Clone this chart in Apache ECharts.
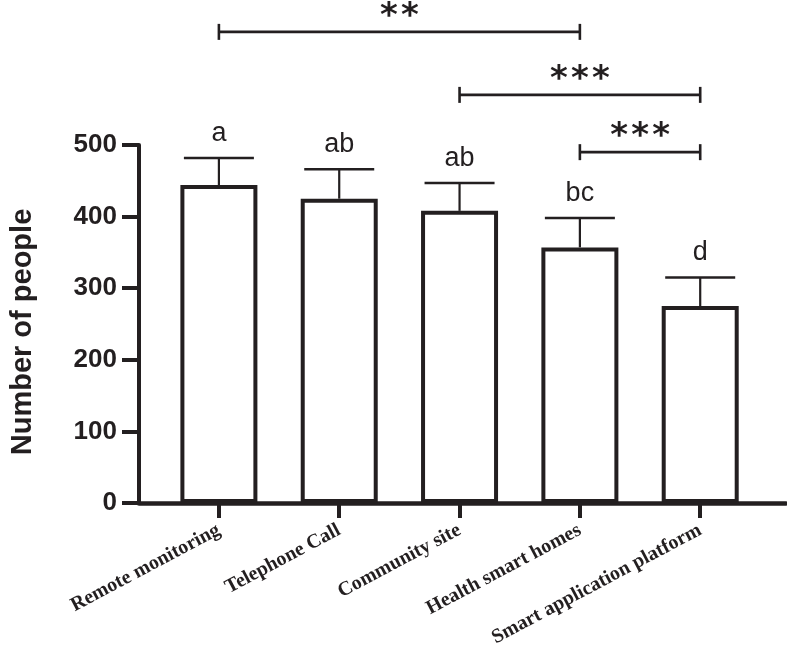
<!DOCTYPE html>
<html>
<head>
<meta charset="utf-8">
<script src="https://cdn.jsdelivr.net/npm/echarts@6/dist/echarts.min.js"></script>
<style>
html,body{margin:0;padding:0;background:#fff;}
#chart{width:787px;height:650px;}
</style>
</head>
<body>
<div id="chart"></div>
<script>
// ---- data ----
const categories = ['Remote monitoring', 'Telephone Call', 'Community site', 'Health smart homes', 'Smart application platform'];
const means = [444, 425, 408, 357, 275];
const sds = [38, 41, 39, 41, 40];
const letters = ['a', 'ab', 'ab', 'bc', 'd'];
const yTicks = [0, 100, 200, 300, 400, 500];
const bracketFrom = [0, 2, 3];
const bracketTo = [3, 4, 4];
const bracketLevel = [658, 570, 490];
const bracketMarks = ['**', '***', '***'];

// ---- chart ----
const INK = '#231f20';
const SANS = '"Liberation Sans", Arial, Helvetica, sans-serif';
const SERIF = '"Liberation Serif", "Times New Roman", serif';
const catIdx = categories.map((c, i) => i);

const chart = echarts.init(document.getElementById('chart'), null, {renderer: 'canvas'});

const option = {
  animation: false,
  backgroundColor: '#ffffff',
  grid: {left: 130, right: 1, top: 145, bottom: 147, containLabel: false},
  xAxis: {
    type: 'value',
    min: -0.664,
    max: 4.713,
    splitLine: {show: false},
    axisLine: {show: true, onZero: false, lineStyle: {color: INK, width: 4.5}},
    axisTick: {show: true, customValues: catIdx, length: 15, lineStyle: {color: INK, width: 4}},
    axisLabel: {
      show: true,
      customValues: catIdx,
      formatter: v => categories[Math.round(v)],
      rotate: 28,
      margin: 26,
      color: INK,
      fontFamily: SERIF,
      fontWeight: 'bold',
      fontSize: 20
    }
  },
  yAxis: {
    type: 'value',
    min: yTicks[0],
    max: yTicks[yTicks.length - 1],
    interval: yTicks[1] - yTicks[0],
    splitLine: {show: false},
    axisLine: {show: true, onZero: false, lineStyle: {color: INK, width: 4}},
    axisTick: {show: true, length: 17, lineStyle: {color: INK, width: 4}},
    axisLabel: {color: INK, fontFamily: SANS, fontWeight: 'bold', fontSize: 26, margin: 22},
    name: 'Number of people',
    nameLocation: 'middle',
    nameGap: 102,
    nameTextStyle: {color: INK, fontFamily: SANS, fontWeight: 'bold', fontSize: 29, padding: [0, 16, 0, 0]}
  },
  series: [
    {
      type: 'bar',
      data: means.map((m, i) => [i, m]),
      barWidth: 77,
      itemStyle: {color: '#ffffff', borderColor: INK, borderWidth: 4},
      z: 2
    },
    {
      type: 'custom',
      clip: false,
      z: 3,
      data: means.map((m, i) => [i, m, m + sds[i]]),
      encode: {x: 0, y: [1, 2]},
      renderItem: function (params, api) {
        const i = params.dataIndex;
        const base = api.coord([api.value(0), api.value(1)]);
        const top = api.coord([api.value(0), api.value(2)]);
        const half = 35;
        return {
          type: 'group',
          children: [
            {type: 'line', shape: {x1: top[0], y1: base[1], x2: top[0], y2: top[1]}, style: {stroke: INK, lineWidth: 2.2}},
            {type: 'line', shape: {x1: top[0] - half, y1: top[1], x2: top[0] + half, y2: top[1]}, style: {stroke: INK, lineWidth: 2.5}},
            {type: 'text', x: top[0], y: top[1] - 11, style: {text: letters[i], fill: INK, font: '27px ' + SANS, align: 'center', verticalAlign: 'bottom'}}
          ]
        };
      }
    },
    {
      type: 'custom',
      clip: false,
      z: 3,
      data: bracketFrom.map((f, i) => [f, bracketTo[i], bracketLevel[i]]),
      encode: {x: [0, 1], y: 2},
      renderItem: function (params, api) {
        const i = params.dataIndex;
        const a = api.coord([api.value(0), api.value(2)]);
        const b = api.coord([api.value(1), api.value(2)]);
        const h = 8;
        const marks = bracketMarks[i].split('');
        const step = 21;
        const mid = (a[0] + b[0]) / 2;
        const children = [
          {type: 'line', shape: {x1: a[0], y1: a[1], x2: b[0], y2: b[1]}, style: {stroke: INK, lineWidth: 2.6}},
          {type: 'line', shape: {x1: a[0], y1: a[1] - h, x2: a[0], y2: a[1] + h}, style: {stroke: INK, lineWidth: 2.6}},
          {type: 'line', shape: {x1: b[0], y1: b[1] - h, x2: b[0], y2: b[1] + h}, style: {stroke: INK, lineWidth: 2.6}}
        ];
        marks.forEach((ch, k) => {
          children.push({type: 'text', x: mid + (k - (marks.length - 1) / 2) * step, y: a[1] - 15,
            style: {text: ch, fill: INK, font: 'bold 34px "DejaVu Sans", sans-serif', align: 'center', verticalAlign: 'middle'}});
        });
        return {type: 'group', children: children};
      }
    }
  ]
};
chart.setOption(option);
</script>
</body>
</html>
